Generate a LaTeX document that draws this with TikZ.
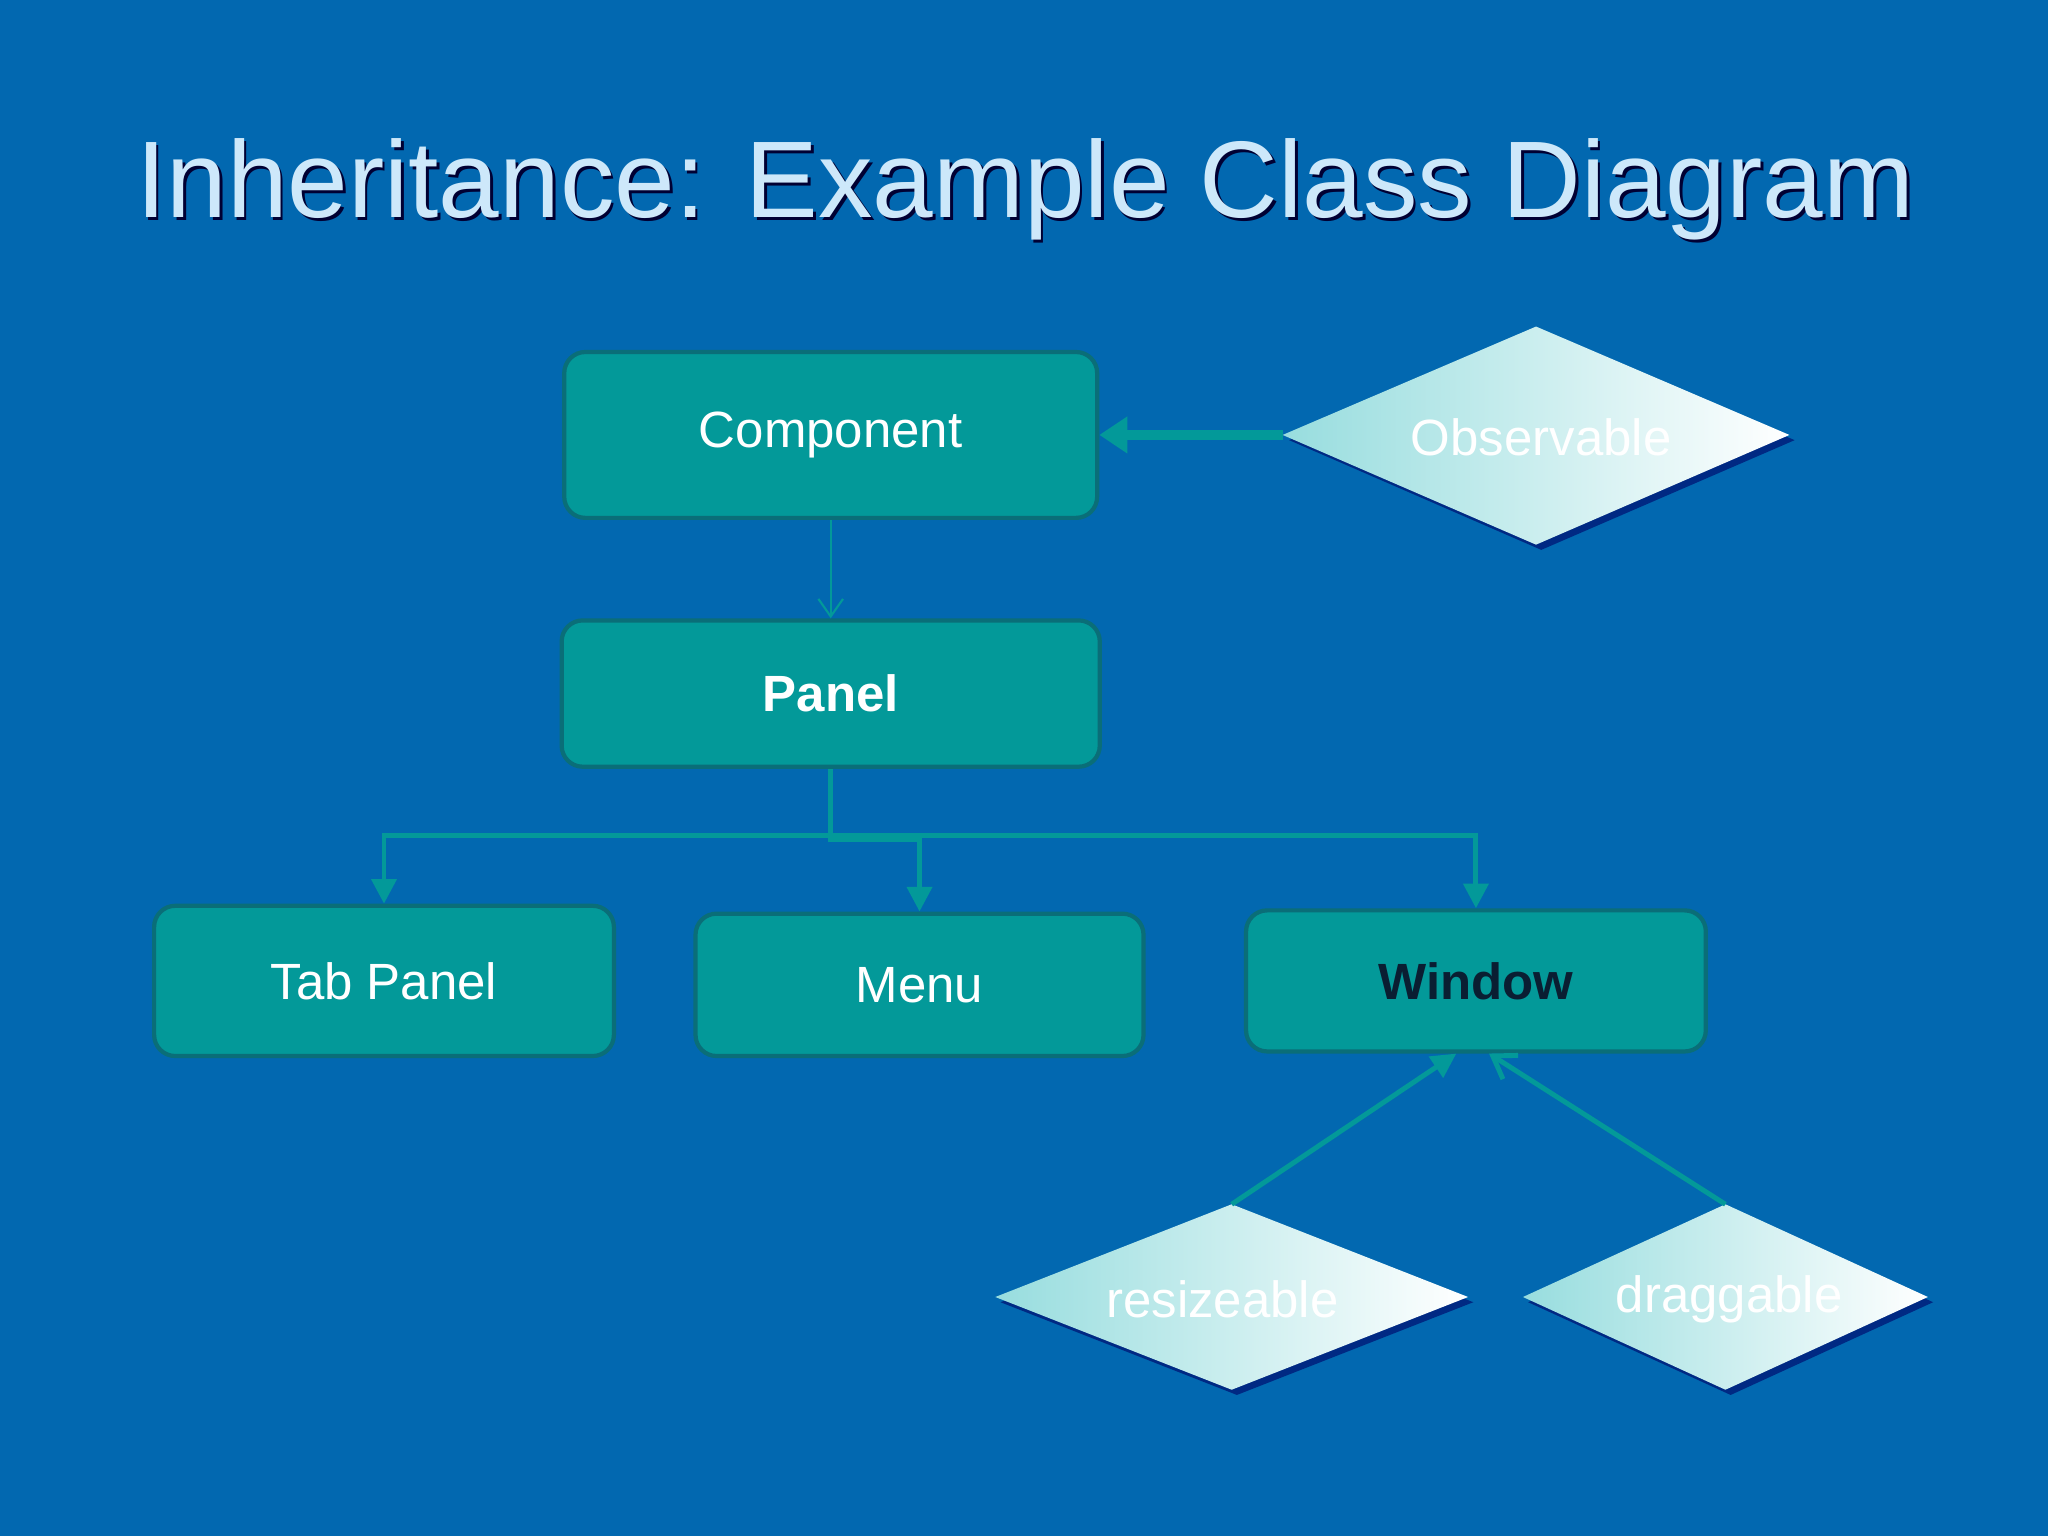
\documentclass[tikz,border=0pt]{standalone}
\usepackage{fontspec}
\setmainfont{Liberation Sans}
\usetikzlibrary{shapes.geometric,arrows.meta}
\definecolor{bg}{RGB}{2,104,176}
\definecolor{teal1}{RGB}{3,153,153}
\definecolor{tealb}{RGB}{10,110,120}
\definecolor{dia}{RGB}{215,250,252}
\definecolor{titlec}{RGB}{205,232,250}
\tikzset{
 cls/.style={draw=tealb,line width=1.2pt,fill=teal1,rounded corners=6pt,text=white,font=\fontsize{14.5}{16}\selectfont,inner sep=0pt},
 lnk/.style={draw=teal1,line width=1.4pt},
 tri/.style={-{Triangle[length=7pt,width=7pt]}},
 dtxt/.style={text=white,font=\fontsize{14.5}{16}\selectfont}
}
\begin{document}
\begin{tikzpicture}[x=1.30612cm,y=-1.30612cm]
\fill[bg] (0,0) rectangle (15.68,11.76);
\useasboundingbox (0,0) rectangle (15.68,11.76);
\node[text=black!80!blue,font=\fontsize{31}{36}\selectfont] at (7.87,1.47) {Inheritance: Example Class Diagram};
\node[text=titlec,font=\fontsize{31}{36}\selectfont] (title) at (7.85,1.45) {Inheritance: Example Class Diagram};
\node[cls,minimum width=4.08*1.30612cm,minimum height=1.27*1.30612cm] (comp) at (6.36,3.33) {Component};
\node[cls,minimum width=4.12*1.30612cm,minimum height=1.12*1.30612cm,font=\fontsize{14.5}{16}\selectfont\bfseries] (panel) at (6.36,5.31) {Panel};
\node[cls,minimum width=3.52*1.30612cm,minimum height=1.15*1.30612cm] (tab) at (2.94,7.51) {Tab Panel};
\node[cls,minimum width=3.43*1.30612cm,minimum height=1.09*1.30612cm] (menu) at (7.04,7.54) {Menu};
\node[cls,minimum width=3.52*1.30612cm,minimum height=1.08*1.30612cm,text={rgb,255:red,10;green,30;blue,50},font=\fontsize{14.5}{16}\selectfont\bfseries] (win) at (11.30,7.51) {Window};
% diamonds
\fill[black!60!blue,opacity=.6] (9.87,3.37)--(11.80,2.54)--(13.74,3.37)--(11.80,4.21)--cycle;
\shade[left color=dia!70!teal1,right color=white] (9.82,3.33)--(11.76,2.50)--(13.70,3.33)--(11.76,4.17)--cycle;
\node[dtxt] (obs) at (11.8,3.35) {Observable};
\coordinate (obsL) at (9.82,3.33);
\fill[black!60!blue,opacity=.6] (7.66,9.97)--(9.47,9.26)--(11.28,9.97)--(9.47,10.68)--cycle;
\shade[left color=dia!70!teal1,right color=white] (7.62,9.93)--(9.43,9.22)--(11.24,9.93)--(9.43,10.64)--cycle;
\node[dtxt] (res) at (9.36,9.95) {resizeable};
\coordinate (resT) at (9.43,9.22);
\fill[black!60!blue,opacity=.6] (11.70,9.97)--(13.25,9.26)--(14.80,9.97)--(13.25,10.68)--cycle;
\shade[left color=dia!70!teal1,right color=white] (11.66,9.93)--(13.21,9.22)--(14.76,9.93)--(13.21,10.64)--cycle;
\node[dtxt] (drg) at (13.24,9.95) {draggable};
\coordinate (drgT) at (13.21,9.22);
% connectors
\draw[draw=teal1,line width=0.6pt,-{Straight Barb[length=5pt,width=7pt]}] (comp.south) -- (panel.north);
\draw[lnk,line width=3pt,-{Triangle[length=8pt,width=10pt]}] (obsL) -- (comp.east);
\draw[lnk] (panel.south) -- (6.36,6.40);
\draw[lnk,tri] (6.36,6.40) -| (tab.north);
\draw[lnk,tri] (6.36,6.40) |- (7.04,6.43) -- (menu.north);
\draw[lnk,tri] (6.36,6.40) -| (win.north);
\draw[lnk,tri] (resT) -- ([xshift=-0.15*1.30612cm]win.south);
\draw[lnk,-{Straight Barb[length=6pt,width=8pt]}] (drgT) -- ([xshift=0.1*1.30612cm]win.south);
\end{tikzpicture}
\end{document}
